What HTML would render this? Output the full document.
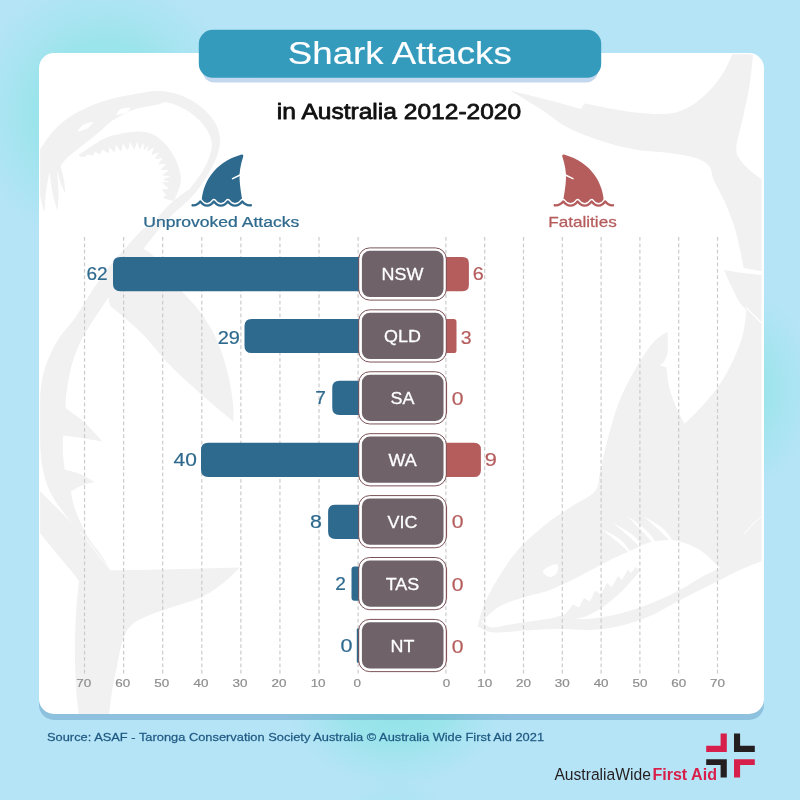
<!DOCTYPE html>
<html lang="en">
<head>
<meta charset="utf-8">
<title>Shark Attacks in Australia 2012-2020</title>
<style>
html,body{margin:0;padding:0;width:800px;height:800px;overflow:hidden;background:#b6e4f7;}
svg{display:block;}
text{font-family:"Liberation Sans",sans-serif;}
</style>
</head>
<body>
<svg width="800" height="800" viewBox="0 0 800 800">
<defs>
<radialGradient id="g1" cx="50%" cy="50%" r="50%"><stop offset="0" stop-color="#8fe4e6" stop-opacity="1"/><stop offset="0.45" stop-color="#94e4e9" stop-opacity="0.8"/><stop offset="0.75" stop-color="#a2e4ee" stop-opacity="0.4"/><stop offset="1" stop-color="#b6e4f7" stop-opacity="0"/></radialGradient>
<clipPath id="cardclip"><rect x="40.2" y="54.3" width="721.4" height="659.7" rx="14" ry="14"/></clipPath>
</defs>
<rect x="0" y="0" width="800" height="800" fill="#b6e4f7"/>
<ellipse cx="105" cy="112" rx="155" ry="155" fill="url(#g1)"/>
<ellipse cx="705" cy="390" rx="128" ry="128" fill="url(#g1)"/>
<ellipse cx="397" cy="694" rx="126" ry="108" fill="url(#g1)"/>
<ellipse cx="392" cy="840" rx="80" ry="70" fill="url(#g1)" opacity="0.5"/>
<!-- card -->
<rect x="39" y="59" width="725" height="661" rx="15" ry="15" fill="#3c78aa" fill-opacity="0.33"/>
<rect x="39" y="53" width="725" height="661" rx="15" ry="15" fill="#ffffff"/>
<g clip-path="url(#cardclip)" fill="#f1f1f1" id="watermarks">
<path d="M38.0,152.0 C38.5,151.3 38.5,151.4 41.0,148.0 C43.5,144.6 48.5,136.5 53.0,131.5 C57.5,126.5 61.8,122.2 68.0,118.0 C74.2,113.8 83.0,109.2 90.5,106.0 C98.0,102.8 105.5,100.5 113.0,98.5 C120.5,96.5 128.0,95.2 135.5,94.0 C143.0,92.8 150.6,90.8 158.0,91.0 C165.4,91.2 173.0,92.5 180.0,95.0 C187.0,97.5 194.2,101.4 200.0,106.0 C205.8,110.6 211.7,116.8 215.0,122.5 C218.3,128.2 219.8,134.2 220.0,140.0 C220.2,145.8 218.6,151.7 216.5,157.5 C214.4,163.3 210.7,169.6 207.5,175.0 C204.3,180.4 201.2,185.2 197.5,190.0 C193.8,194.8 189.1,199.5 185.0,203.5 C180.9,207.5 177.5,209.5 173.0,214.0 C168.5,218.5 162.9,224.7 158.0,230.5 C153.1,236.3 145.8,245.9 143.3,249.0 C144.8,249.9 148.9,251.3 152.0,254.5 C155.1,257.7 156.9,261.8 162.0,268.0 C167.1,274.2 176.3,284.9 182.3,291.8 C188.3,298.7 193.1,302.9 198.0,309.3 C202.9,315.7 207.9,322.7 212.0,330.3 C216.1,337.9 219.6,346.4 222.5,354.8 C225.4,363.2 227.8,372.8 229.5,381.0 C231.2,389.2 232.3,397.1 233.0,403.8 C233.7,410.6 233.5,418.6 233.6,421.5 C231.8,420.0 228.4,417.5 222.5,412.5 C216.6,407.5 206.8,399.4 198.0,391.5 C189.2,383.6 179.0,374.6 170.0,365.3 C161.0,356.0 151.7,343.7 143.8,335.5 C135.9,327.3 128.3,321.2 122.8,316.3 C117.2,311.4 112.8,309.0 110.5,305.8 C108.2,302.6 109.1,298.5 108.8,297.0 C106.1,301.1 97.3,313.9 92.5,321.5 C87.7,329.1 83.5,335.1 80.0,342.5 C76.5,349.9 73.8,357.7 71.5,366.0 C69.2,374.3 67.5,385.4 66.5,392.5 C65.5,399.6 65.8,405.7 65.6,408.3 C68.7,410.6 77.9,416.5 84.0,422.0 C90.1,427.5 99.3,438.2 102.4,441.5 C99.0,440.9 88.6,439.0 82.0,438.0 C75.4,437.0 66.2,435.8 63.0,435.4 C63.0,438.5 62.7,448.1 63.0,453.8 C63.3,459.5 64.5,467.1 64.8,469.8 C67.3,470.5 75.0,472.0 80.0,474.0 C85.0,476.0 92.1,480.7 94.5,482.0 C92.4,482.6 85.9,483.9 82.0,485.5 C78.1,487.1 72.8,490.6 70.9,491.6 C71.6,494.7 72.5,502.6 75.3,510.0 C78.1,517.5 83.1,528.7 87.5,536.3 C91.9,543.9 97.7,549.8 101.5,555.5 C105.3,561.2 109.1,567.8 110.6,570.3 C121.3,570.1 153.4,569.7 175.0,569.2 C196.6,568.7 229.1,567.8 239.9,567.5 C236.9,570.2 228.7,579.0 222.0,584.0 C215.3,589.0 209.2,593.7 200.0,597.8 C190.8,601.9 176.2,605.6 167.0,608.8 C157.8,612.0 150.9,614.2 145.0,617.0 C139.1,619.8 135.0,621.6 131.3,625.3 C127.6,629.0 125.3,632.6 123.0,639.0 C120.7,645.4 119.3,655.1 117.5,663.8 C115.7,672.5 113.5,681.9 112.0,691.3 C110.5,700.7 109.1,715.2 108.5,720.0 L79.5,720.0 C79.0,715.2 77.1,703.0 76.3,691.3 C75.5,679.6 74.9,663.8 74.9,650.0 C74.9,636.2 75.6,620.2 76.3,608.8 C77.0,597.3 78.5,585.9 79.0,581.3 C77.9,579.8 76.7,577.7 72.5,572.5 C68.3,567.3 59.4,556.8 53.8,550.0 C48.2,543.2 42.8,536.3 38.8,532.0 C34.8,527.7 31.5,525.3 30.0,524.0 L30.0,483.0 C31.5,484.2 34.8,486.3 38.8,490.0 C42.8,493.7 48.8,500.0 53.8,505.0 C58.8,510.0 64.4,515.5 68.8,520.0 C73.2,524.5 78.1,530.0 80.0,532.0 C77.5,529.1 70.0,521.1 65.0,514.4 C60.0,507.7 53.8,499.8 50.0,492.0 C46.2,484.2 44.2,476.0 42.5,467.5 C40.8,459.0 40.2,449.1 39.7,441.0 C39.2,432.9 39.3,426.9 39.4,418.8 C39.5,410.7 39.3,401.2 40.3,392.5 C41.3,383.8 42.6,375.1 45.5,366.3 C48.4,357.6 52.9,348.1 57.8,340.0 C62.7,331.9 69.2,326.3 75.0,318.0 C80.8,309.7 86.7,298.8 92.5,290.0 C98.3,281.2 104.8,272.2 110.0,265.5 C115.2,258.8 118.8,255.6 124.0,249.8 C129.2,244.0 136.8,234.9 141.5,230.5 C146.2,226.1 147.8,227.4 152.0,223.5 C156.2,219.6 162.5,211.5 167.0,207.0 C171.5,202.5 175.2,199.5 179.0,196.5 C182.8,193.5 188.2,190.1 190.0,188.8 C192.1,185.9 199.2,176.9 202.5,171.3 C205.8,165.7 208.5,160.2 210.0,155.0 C211.5,149.8 212.6,145.2 211.3,140.0 C210.1,134.8 206.7,128.8 202.5,123.8 C198.3,118.8 192.1,113.5 186.3,110.0 C180.5,106.5 172.2,103.4 167.5,102.5 C162.8,101.6 163.3,103.4 158.0,104.5 C152.7,105.6 141.5,107.2 135.5,109.0 C129.5,110.8 126.2,112.8 122.0,115.0 C117.8,117.2 114.0,119.5 110.0,122.5 C106.0,125.5 102.5,129.2 98.0,133.0 C93.5,136.8 88.0,141.0 83.0,145.0 C78.0,149.0 71.8,153.5 68.0,157.0 C64.2,160.5 61.8,164.5 60.5,166.0 C61.1,168.3 63.2,175.3 64.0,180.0 C64.8,184.7 65.2,191.7 65.5,194.0 C64.8,192.3 62.4,188.0 61.0,184.0 C59.6,180.0 57.7,172.3 57.0,170.0 C57.2,173.7 58.4,185.2 58.5,192.0 C58.6,198.8 57.9,207.8 57.8,211.0 C57.0,208.3 54.4,201.5 53.0,195.0 C51.6,188.5 50.1,175.8 49.5,172.0 C48.9,175.3 46.8,185.2 46.0,192.0 C45.2,198.8 44.8,209.5 44.5,213.0 C43.6,209.2 40.1,198.0 39.0,190.0 C37.9,182.0 38.2,169.2 38.0,165.0 L38.0,152.0Z" fill="#f1f1f1"/>
<path d="M80.0,532.0 C81.7,534.0 86.7,539.8 90.0,544.0 C93.3,548.2 96.5,552.6 100.0,557.0 C103.5,561.4 109.2,568.2 111.0,570.5" fill="none" stroke="#ffffff" stroke-width="1"/>
<path d="M77.0,132.0 C78.0,130.8 80.2,126.8 83.0,125.0 C85.8,123.2 91.8,122.1 93.5,121.5 C92.6,122.6 90.8,126.2 88.0,128.0 C85.2,129.8 78.8,131.3 77.0,132.0Z" fill="#ffffff"/>
<path d="M116.0,115.0 C116.8,114.0 118.5,110.2 121.0,109.0 C123.5,107.8 129.3,107.8 131.0,107.5 C130.2,108.4 128.5,111.8 126.0,113.0 C123.5,114.2 117.7,114.7 116.0,115.0Z" fill="#ffffff"/>
<path d="M79.6,154.8 L81.3,153.7 L83.0,152.6 L84.7,151.5 L86.4,150.3 L88.0,149.2 L89.7,148.1 L91.4,147.0 L93.1,145.9 L94.8,144.8 L96.6,143.7 L98.2,142.7 L99.9,141.6 L101.6,140.5 L103.4,139.6 L105.4,138.7 L107.3,137.9 L109.4,137.1 L111.5,136.5 L113.5,135.9 L115.5,135.4 L117.5,135.0 L119.5,134.5 L121.5,134.1 L123.5,133.7 L125.6,133.4 L127.6,133.1 L129.6,132.8 L131.7,132.5 L133.8,132.3 L135.9,132.2 L138.1,132.1 L140.3,132.2 L142.5,132.4 L144.7,132.7 L146.9,133.1 L149.1,133.7 L151.2,134.4 L153.3,135.3 L155.5,136.5 L157.4,137.7 L159.1,139.1 L160.8,140.5 L162.3,141.9 L163.8,143.4 L165.3,145.0 L166.7,146.7 L168.0,148.4 L169.3,150.1 L170.5,151.8 L171.6,153.6 L172.7,155.4 L173.7,157.2 L174.7,159.1 L175.7,161.0 L176.5,163.0 L177.3,165.0 L178.0,167.0 L178.6,169.1 L179.2,171.1 L179.7,173.2 L180.0,175.4 L180.3,177.7 L180.3,180.1 L180.0,182.6 L179.5,184.9 L178.9,187.0 L178.2,189.0 L177.5,190.9 L176.8,192.8 L176.0,194.7 L175.2,196.7 L174.4,198.6 L173.5,200.4 L166.0,198.4 L163.7,197.4 L167.3,195.7 L162.8,190.1 L170.1,189.0 L163.4,182.7 L172.3,182.3 L164.2,179.5 L172.5,176.1 L163.5,174.9 L170.8,169.4 L161.7,169.3 L168.1,162.9 L159.0,163.9 L164.5,156.7 L155.6,158.7 L160.4,150.9 L152.0,154.4 L155.4,145.9 L147.7,150.6 L150.1,142.2 L144.4,149.1 L143.8,140.2 L139.8,148.3 L137.0,139.7 L134.3,148.4 L129.9,140.4 L127.6,149.4 L122.6,141.7 L120.9,150.7 L115.4,143.3 L114.4,151.5 L108.8,145.5 L108.2,152.4 L101.9,148.4 L100.2,153.8 L94.7,150.9 L92.5,154.9 L87.5,153.6 L84.6,156.2 L80.4,156.2Z" fill="#f1f1f1" stroke="#f1f1f1" stroke-width="1.2" stroke-linejoin="round"/>
<path d="M510.0,90.5 C516.8,92.2 538.8,97.5 550.6,100.6 C562.4,103.7 575.9,107.6 581.0,109.0 L584.5,103.5 C592.9,105.0 619.8,110.9 635.0,112.4 C650.2,113.9 664.2,114.9 675.5,112.4 C686.8,109.9 694.6,103.8 702.5,97.3 C710.4,90.8 717.2,82.3 722.8,73.6 C728.4,64.9 734.0,49.8 736.3,45.0 L754.0,45.0 C753.3,51.5 751.6,71.7 749.8,83.8 C748.0,95.9 745.2,106.8 743.0,117.5 C740.8,128.2 736.6,140.7 736.3,147.9 C736.0,155.2 738.4,157.0 741.0,161.0 C743.6,165.0 748.3,168.8 752.0,172.0 C755.7,175.2 760.0,177.8 763.0,180.0 C766.0,182.2 768.8,184.2 770.0,185.0 L770.0,272.5 L743.8,268.1 C743.2,265.0 741.6,256.3 740.0,249.4 C738.4,242.5 736.9,234.7 734.4,226.9 C731.9,219.1 728.4,210.3 725.0,202.5 C721.6,194.7 716.4,186.0 713.8,180.0 C711.2,174.0 712.3,170.1 709.3,166.4 C706.3,162.7 702.5,160.2 695.8,158.0 C689.0,155.8 678.9,154.4 668.8,153.0 C658.7,151.6 646.2,151.6 635.0,149.6 C623.8,147.6 612.5,144.8 601.3,141.1 C590.0,137.4 577.6,132.9 567.5,127.6 C557.4,122.2 550.1,115.2 540.5,109.0 C530.9,102.8 515.1,93.6 510.0,90.5Z" fill="#f1f1f1"/>
<path d="M724.0,270.0 C727.2,270.5 735.3,272.0 743.0,273.0 C750.7,274.0 765.5,275.5 770.0,276.0 L770.0,331.0 C765.6,327.1 750.0,314.5 743.8,307.5 C737.5,300.5 735.8,295.1 732.5,288.8 C729.2,282.6 725.4,273.1 724.0,270.0Z" fill="#f1f1f1"/>
<path d="M741.0,269.3 C743.0,269.7 748.8,270.9 753.0,271.6 C757.2,272.3 763.8,273.3 766.0,273.6" fill="none" stroke="#ffffff" stroke-width="1.6"/>
<path d="M477.5,626.3 C478.8,622.3 481.2,611.0 485.0,602.5 C488.8,594.0 494.2,584.2 500.0,575.0 C505.8,565.8 512.5,555.8 520.0,547.5 C527.5,539.2 536.7,531.7 545.0,525.0 C553.3,518.3 561.7,513.1 570.0,507.5 C578.3,501.9 590.0,497.1 595.0,491.3 C600.0,485.5 597.9,481.1 600.0,472.5 C602.1,463.9 604.3,451.9 607.5,440.0 C610.7,428.1 614.7,413.0 619.3,401.3 C623.9,389.6 629.4,379.6 635.0,369.8 C640.6,360.1 647.6,349.2 653.0,342.8 C658.4,336.4 665.2,333.4 667.6,331.5 C667.6,334.9 668.2,346.7 667.6,351.8 C667.0,356.9 664.6,360.3 664.0,362.0 L659.8,365.3 L666.5,367.5 C666.9,370.5 667.3,379.1 668.8,385.5 C670.3,391.9 672.9,399.4 675.5,405.8 C678.1,412.2 683.0,420.8 684.5,423.8 C687.5,420.8 696.5,412.6 702.5,405.8 C708.5,399.1 715.2,391.2 720.5,383.3 C725.8,375.4 730.2,366.8 734.0,358.5 C737.8,350.2 740.9,342.1 743.0,333.8 C745.1,325.6 746.0,313.1 746.6,309.0 L770.0,332.5 L770.0,558.0 C765.0,560.0 748.3,566.3 740.0,570.0 C731.7,573.7 728.3,575.8 720.0,580.0 C711.7,584.2 698.3,590.8 690.0,595.0 C681.7,599.2 676.7,602.0 670.0,605.5 C663.3,609.0 658.3,612.6 650.0,616.0 C641.7,619.4 630.0,623.7 620.0,626.0 C610.0,628.3 600.0,629.5 590.0,630.0 C580.0,630.5 570.0,628.8 560.0,628.8 C550.0,628.8 540.0,629.7 530.0,630.3 C520.0,630.9 507.0,632.3 500.0,632.5 C493.0,632.7 491.8,632.5 488.0,631.5 C484.2,630.5 479.2,627.2 477.5,626.3Z" fill="#f1f1f1"/>
<path d="M746.0,307.5 C747.5,309.0 751.7,313.2 755.0,316.5 C758.3,319.8 764.2,325.7 766.0,327.5" fill="none" stroke="#ffffff" stroke-width="1.3"/>
<path d="M481.5,622.0 C484.6,619.3 492.8,610.2 500.0,606.0 C507.2,601.8 516.7,599.7 525.0,597.0 C533.3,594.3 540.8,593.5 550.0,590.0 C559.2,586.5 570.0,581.0 580.0,576.0 C590.0,571.0 601.7,564.2 610.0,560.0 C618.3,555.8 624.2,553.7 630.0,551.0 C635.8,548.3 640.0,545.8 645.0,544.0 C650.0,542.2 654.5,541.0 660.0,540.5 C665.5,540.0 671.3,539.4 678.0,541.0 C684.7,542.6 693.0,545.5 700.0,550.0 C707.0,554.5 716.7,565.0 720.0,568.0 C716.7,569.7 706.7,574.3 700.0,578.0 C693.3,581.7 686.7,586.4 680.0,590.0 C673.3,593.6 666.7,596.6 660.0,599.5 C653.3,602.4 646.7,605.2 640.0,607.5 C633.3,609.8 626.7,611.8 620.0,613.5 C613.3,615.2 606.7,616.6 600.0,617.5 C593.3,618.4 586.0,619.4 580.0,619.0 C574.0,618.6 566.7,615.7 564.0,615.0 C561.7,615.6 555.7,617.4 550.0,618.5 C544.3,619.6 536.7,620.5 530.0,621.5 C523.3,622.5 516.3,623.5 510.0,624.5 C503.7,625.5 496.8,627.9 492.0,627.5 C487.2,627.1 483.2,622.9 481.5,622.0Z" fill="#ffffff"/>
<path d="M562.0,617.0 C565.0,617.2 573.7,619.3 580.0,618.0 C586.3,616.7 593.3,613.2 600.0,609.0 C606.7,604.8 613.3,599.3 620.0,593.0 C626.7,586.7 636.7,574.7 640.0,571.0 L636.0,567.0 L631.0,573.0 L628.0,569.5 L622.0,580.0 L618.0,576.0 L612.0,587.0 L607.0,583.0 L601.0,594.5 L595.0,590.5 L590.0,601.5 L584.0,598.0 L579.0,607.5 L573.0,604.5 L568.0,611.0 L562.0,617.0Z" fill="#f1f1f1"/>
<path d="M543.0,571.5 C543.0,569.8 546.6,567.7 549.0,566.5 C551.4,565.3 556.2,563.3 557.5,564.5 C558.8,565.7 557.9,571.4 556.5,573.5 C555.1,575.6 551.2,577.3 549.0,577.0 C546.8,576.7 543.0,573.2 543.0,571.5Z" fill="#ffffff"/>
<path d="M601.0,529.0 C604.3,530.8 615.2,535.1 620.7,539.8 C626.2,544.5 631.8,554.1 634.0,557.0 C631.4,554.6 623.6,547.1 618.1,542.4 C612.6,537.7 603.9,531.2 601.0,529.0Z" fill="#ffffff"/>
<path d="M613.0,523.0 C616.6,525.3 628.5,531.1 634.7,536.8 C640.9,542.5 647.5,553.6 650.0,557.0 C647.0,554.1 638.3,545.1 632.1,539.4 C625.9,533.7 616.2,525.7 613.0,523.0Z" fill="#ffffff"/>
<path d="M627.0,516.0 C630.6,518.8 642.5,526.1 648.7,532.8 C654.9,539.5 661.5,552.1 664.0,556.0 C661.0,552.6 652.3,542.1 646.1,535.4 C639.9,528.7 630.2,519.2 627.0,516.0Z" fill="#ffffff"/>
<path d="M643.0,516.0 C646.5,518.2 657.9,523.8 663.7,529.3 C669.5,534.8 675.6,545.7 678.0,549.0 C675.2,546.1 666.9,537.4 661.1,531.9 C655.3,526.4 646.0,518.6 643.0,516.0Z" fill="#ffffff"/>
<path d="M744.0,534.0 C745.5,532.3 749.8,527.2 753.0,524.0 C756.2,520.8 761.3,516.5 763.0,515.0" fill="none" stroke="#ffffff" stroke-width="1"/>
</g>

<rect x="202.5" y="38" width="395.5" height="44.6" rx="12" ry="12" fill="#7aa7dc" fill-opacity="0.45"/>
<rect x="198.8" y="29.8" width="402.4" height="48" rx="14" ry="14" fill="#359bbd"/>
<text transform="translate(399.80,64.30) scale(1.1450,1)" font-size="32" fill="#ffffff" text-anchor="middle" stroke="#ffffff" stroke-width="0.15" stroke-linejoin="round">Shark Attacks</text>
<text transform="translate(399.00,119.30) scale(1.0919,1)" font-size="22.5" fill="#111111" text-anchor="middle" stroke="#111111" stroke-width="0.8" stroke-linejoin="round">in Australia 2012-2020</text>
<g stroke="#cbcbcb" stroke-width="1.2" stroke-dasharray="3.75 2.6125" fill="none">
<line x1="358.10" y1="237.1" x2="358.10" y2="673.5"/>
<line x1="319.02" y1="237.1" x2="319.02" y2="673.5"/>
<line x1="279.94" y1="237.1" x2="279.94" y2="673.5"/>
<line x1="240.86" y1="237.1" x2="240.86" y2="673.5"/>
<line x1="201.78" y1="237.1" x2="201.78" y2="673.5"/>
<line x1="162.70" y1="237.1" x2="162.70" y2="673.5"/>
<line x1="123.62" y1="237.1" x2="123.62" y2="673.5"/>
<line x1="84.54" y1="237.1" x2="84.54" y2="673.5"/>
<line x1="445.90" y1="237.1" x2="445.90" y2="673.5"/>
<line x1="484.70" y1="237.1" x2="484.70" y2="673.5"/>
<line x1="523.50" y1="237.1" x2="523.50" y2="673.5"/>
<line x1="562.30" y1="237.1" x2="562.30" y2="673.5"/>
<line x1="601.10" y1="237.1" x2="601.10" y2="673.5"/>
<line x1="639.90" y1="237.1" x2="639.90" y2="673.5"/>
<line x1="678.70" y1="237.1" x2="678.70" y2="673.5"/>
<line x1="717.50" y1="237.1" x2="717.50" y2="673.5"/>
</g>
<g>
<text transform="translate(357.20,687.20) scale(1.2000,1)" font-size="11.2" fill="#8e8e8e" text-anchor="middle" stroke="#8e8e8e" stroke-width="0.2" stroke-linejoin="round">0</text>
<text transform="translate(318.12,687.20) scale(1.2000,1)" font-size="11.2" fill="#8e8e8e" text-anchor="middle" stroke="#8e8e8e" stroke-width="0.2" stroke-linejoin="round">10</text>
<text transform="translate(279.04,687.20) scale(1.2000,1)" font-size="11.2" fill="#8e8e8e" text-anchor="middle" stroke="#8e8e8e" stroke-width="0.2" stroke-linejoin="round">20</text>
<text transform="translate(239.96,687.20) scale(1.2000,1)" font-size="11.2" fill="#8e8e8e" text-anchor="middle" stroke="#8e8e8e" stroke-width="0.2" stroke-linejoin="round">30</text>
<text transform="translate(200.88,687.20) scale(1.2000,1)" font-size="11.2" fill="#8e8e8e" text-anchor="middle" stroke="#8e8e8e" stroke-width="0.2" stroke-linejoin="round">40</text>
<text transform="translate(161.80,687.20) scale(1.2000,1)" font-size="11.2" fill="#8e8e8e" text-anchor="middle" stroke="#8e8e8e" stroke-width="0.2" stroke-linejoin="round">50</text>
<text transform="translate(122.72,687.20) scale(1.2000,1)" font-size="11.2" fill="#8e8e8e" text-anchor="middle" stroke="#8e8e8e" stroke-width="0.2" stroke-linejoin="round">60</text>
<text transform="translate(83.64,687.20) scale(1.2000,1)" font-size="11.2" fill="#8e8e8e" text-anchor="middle" stroke="#8e8e8e" stroke-width="0.2" stroke-linejoin="round">70</text>
<text transform="translate(446.50,687.20) scale(1.2000,1)" font-size="11.2" fill="#8e8e8e" text-anchor="middle" stroke="#8e8e8e" stroke-width="0.2" stroke-linejoin="round">0</text>
<text transform="translate(484.70,687.20) scale(1.2000,1)" font-size="11.2" fill="#8e8e8e" text-anchor="middle" stroke="#8e8e8e" stroke-width="0.2" stroke-linejoin="round">10</text>
<text transform="translate(523.50,687.20) scale(1.2000,1)" font-size="11.2" fill="#8e8e8e" text-anchor="middle" stroke="#8e8e8e" stroke-width="0.2" stroke-linejoin="round">20</text>
<text transform="translate(562.30,687.20) scale(1.2000,1)" font-size="11.2" fill="#8e8e8e" text-anchor="middle" stroke="#8e8e8e" stroke-width="0.2" stroke-linejoin="round">30</text>
<text transform="translate(601.10,687.20) scale(1.2000,1)" font-size="11.2" fill="#8e8e8e" text-anchor="middle" stroke="#8e8e8e" stroke-width="0.2" stroke-linejoin="round">40</text>
<text transform="translate(639.90,687.20) scale(1.2000,1)" font-size="11.2" fill="#8e8e8e" text-anchor="middle" stroke="#8e8e8e" stroke-width="0.2" stroke-linejoin="round">50</text>
<text transform="translate(678.70,687.20) scale(1.2000,1)" font-size="11.2" fill="#8e8e8e" text-anchor="middle" stroke="#8e8e8e" stroke-width="0.2" stroke-linejoin="round">60</text>
<text transform="translate(717.50,687.20) scale(1.2000,1)" font-size="11.2" fill="#8e8e8e" text-anchor="middle" stroke="#8e8e8e" stroke-width="0.2" stroke-linejoin="round">70</text>
</g>
<g transform=""><g transform="translate(0.00,0)"><path d="M241.6,154.6 C243.2,154.2 243.6,155.6 243.1,157 C240.6,165 239.2,172 239.6,179 C240,187 241.2,194 243,204 L201.5,204 C202,184 213.5,162.5 241.6,154.6 Z" fill="#2e6a8e"/><path d="M192.6,205.3 C196.2,205.6 198.6,203.8 200.3,201.4 C202.2,204.2 204.2,205.6 207,205.6 C209.8,205.6 212,204.2 213.9,201.4 C215.8,204.2 217.8,205.6 220.8,205.6 C223.8,205.6 226,204.2 227.9,201.4 C229.8,204.2 232,205.6 235,205.6 C238,205.6 240.3,204.2 242.3,201.4 C244,203.8 247,205.6 250.8,205.3" fill="none" stroke="#ffffff" stroke-width="5.1" stroke-linecap="butt" stroke-linejoin="round"/><path d="M192.6,205.3 C196.2,205.6 198.6,203.8 200.3,201.4 C202.2,204.2 204.2,205.6 207,205.6 C209.8,205.6 212,204.2 213.9,201.4 C215.8,204.2 217.8,205.6 220.8,205.6 C223.8,205.6 226,204.2 227.9,201.4 C229.8,204.2 232,205.6 235,205.6 C238,205.6 240.3,204.2 242.3,201.4 C244,203.8 247,205.6 250.8,205.3" fill="none" stroke="#2e6a8e" stroke-width="2.4" stroke-linecap="round" stroke-linejoin="round"/><path d="M232.6,178.6 L240.6,174.8" fill="none" stroke="#ffffff" stroke-width="1.6" stroke-linecap="round"/></g></g>
<g transform="translate(1167.8,0) scale(-1,1)"><g transform="translate(362.25,0)"><path d="M241.6,154.6 C243.2,154.2 243.6,155.6 243.1,157 C240.6,165 239.2,172 239.6,179 C240,187 241.2,194 243,204 L201.5,204 C202,184 213.5,162.5 241.6,154.6 Z" fill="#b55c5c"/><path d="M192.6,205.3 C196.2,205.6 198.6,203.8 200.3,201.4 C202.2,204.2 204.2,205.6 207,205.6 C209.8,205.6 212,204.2 213.9,201.4 C215.8,204.2 217.8,205.6 220.8,205.6 C223.8,205.6 226,204.2 227.9,201.4 C229.8,204.2 232,205.6 235,205.6 C238,205.6 240.3,204.2 242.3,201.4 C244,203.8 247,205.6 250.8,205.3" fill="none" stroke="#ffffff" stroke-width="5.1" stroke-linecap="butt" stroke-linejoin="round"/><path d="M192.6,205.3 C196.2,205.6 198.6,203.8 200.3,201.4 C202.2,204.2 204.2,205.6 207,205.6 C209.8,205.6 212,204.2 213.9,201.4 C215.8,204.2 217.8,205.6 220.8,205.6 C223.8,205.6 226,204.2 227.9,201.4 C229.8,204.2 232,205.6 235,205.6 C238,205.6 240.3,204.2 242.3,201.4 C244,203.8 247,205.6 250.8,205.3" fill="none" stroke="#b55c5c" stroke-width="2.4" stroke-linecap="round" stroke-linejoin="round"/><path d="M232.6,178.6 L240.6,174.8" fill="none" stroke="#ffffff" stroke-width="1.6" stroke-linecap="round"/></g></g>
<text transform="translate(221.30,226.60) scale(1.2014,1)" font-size="14.6" fill="#2e6a8e" text-anchor="middle" stroke="#2e6a8e" stroke-width="0.25" stroke-linejoin="round">Unprovoked Attacks</text>
<text transform="translate(582.50,226.80) scale(1.1742,1)" font-size="14.6" fill="#b55c5c" text-anchor="middle" stroke="#b55c5c" stroke-width="0.25" stroke-linejoin="round">Fatalities</text>
<path d="M400,257.00 L120.20,257.00 Q113.00,257.00 113.00,264.20 L113.00,284.00 Q113.00,291.20 120.20,291.20 L400,291.20 Z" fill="#2e6a8e"/>
<path d="M400,257.00 L462.50,257.00 Q468.90,257.00 468.90,263.40 L468.90,284.80 Q468.90,291.20 462.50,291.20 L400,291.20 Z" fill="#b55c5c"/>
<rect x="358.7" y="247.90" width="87.6" height="52.2" rx="11" ry="11" fill="#ffffff" stroke="#6b4046" stroke-width="0.9"/>
<rect x="361.9" y="250.80" width="81.6" height="46.3" rx="8" ry="8" fill="#6f6369"/>
<text transform="translate(402.50,280.10) scale(1.0300,1)" font-size="17.4" fill="#ffffff" text-anchor="middle" stroke="#ffffff" stroke-width="0.3" stroke-linejoin="round">NSW</text>
<text transform="translate(107.58,280.47) scale(1.0872,1)" font-size="17.5" fill="#2e6a8e" text-anchor="end" stroke="#2e6a8e" stroke-width="0.2" stroke-linejoin="round">62</text>
<text transform="translate(472.84,280.47) scale(1.1289,1)" font-size="17.5" fill="#b55c5c" text-anchor="start" stroke="#b55c5c" stroke-width="0.2" stroke-linejoin="round">6</text>
<path d="M400,318.92 L251.70,318.92 Q244.50,318.92 244.50,326.12 L244.50,345.92 Q244.50,353.12 251.70,353.12 L400,353.12 Z" fill="#2e6a8e"/>
<path d="M400,318.92 L453.64,318.92 Q456.50,318.92 456.50,321.78 L456.50,350.26 Q456.50,353.12 453.64,353.12 L400,353.12 Z" fill="#b55c5c"/>
<rect x="358.7" y="309.82" width="87.6" height="52.2" rx="11" ry="11" fill="#ffffff" stroke="#6b4046" stroke-width="0.9"/>
<rect x="361.9" y="312.72" width="81.6" height="46.3" rx="8" ry="8" fill="#6f6369"/>
<text transform="translate(402.50,342.02) scale(1.0300,1)" font-size="17.4" fill="#ffffff" text-anchor="middle" stroke="#ffffff" stroke-width="0.3" stroke-linejoin="round">QLD</text>
<text transform="translate(239.98,343.52) scale(1.1424,1)" font-size="17.5" fill="#2e6a8e" text-anchor="end" stroke="#2e6a8e" stroke-width="0.2" stroke-linejoin="round">29</text>
<text transform="translate(460.84,343.81) scale(1.1122,1)" font-size="17.5" fill="#b55c5c" text-anchor="start" stroke="#b55c5c" stroke-width="0.2" stroke-linejoin="round">3</text>
<path d="M400,380.84 L339.45,380.84 Q332.25,380.84 332.25,388.04 L332.25,407.84 Q332.25,415.04 339.45,415.04 L400,415.04 Z" fill="#2e6a8e"/>
<rect x="444.2" y="381.84" width="2.9" height="32.20" rx="1" fill="#b55c5c"/>
<rect x="358.7" y="371.74" width="87.6" height="52.2" rx="11" ry="11" fill="#ffffff" stroke="#6b4046" stroke-width="0.9"/>
<rect x="361.9" y="374.64" width="81.6" height="46.3" rx="8" ry="8" fill="#6f6369"/>
<text transform="translate(402.50,403.94) scale(1.0300,1)" font-size="17.4" fill="#ffffff" text-anchor="middle" stroke="#ffffff" stroke-width="0.3" stroke-linejoin="round">SA</text>
<text transform="translate(325.82,404.49) scale(1.0907,1)" font-size="17.5" fill="#2e6a8e" text-anchor="end" stroke="#2e6a8e" stroke-width="0.2" stroke-linejoin="round">7</text>
<text transform="translate(451.68,404.52) scale(1.2059,1)" font-size="17.5" fill="#b55c5c" text-anchor="start" stroke="#b55c5c" stroke-width="0.2" stroke-linejoin="round">0</text>
<path d="M400,442.76 L208.20,442.76 Q201.00,442.76 201.00,449.96 L201.00,469.76 Q201.00,476.96 208.20,476.96 L400,476.96 Z" fill="#2e6a8e"/>
<path d="M400,442.76 L474.10,442.76 Q480.90,442.76 480.90,449.56 L480.90,470.16 Q480.90,476.96 474.10,476.96 L400,476.96 Z" fill="#b55c5c"/>
<rect x="358.7" y="433.66" width="87.6" height="52.2" rx="11" ry="11" fill="#ffffff" stroke="#6b4046" stroke-width="0.9"/>
<rect x="361.9" y="436.56" width="81.6" height="46.3" rx="8" ry="8" fill="#6f6369"/>
<text transform="translate(402.50,465.86) scale(1.0300,1)" font-size="17.4" fill="#ffffff" text-anchor="middle" stroke="#ffffff" stroke-width="0.3" stroke-linejoin="round">WA</text>
<text transform="translate(196.82,465.77) scale(1.1969,1)" font-size="17.5" fill="#2e6a8e" text-anchor="end" stroke="#2e6a8e" stroke-width="0.2" stroke-linejoin="round">40</text>
<text transform="translate(484.84,466.44) scale(1.2441,1)" font-size="17.5" fill="#b55c5c" text-anchor="start" stroke="#b55c5c" stroke-width="0.2" stroke-linejoin="round">9</text>
<path d="M400,504.68 L335.30,504.68 Q328.10,504.68 328.10,511.88 L328.10,531.68 Q328.10,538.88 335.30,538.88 L400,538.88 Z" fill="#2e6a8e"/>
<rect x="444.2" y="505.68" width="2.9" height="32.20" rx="1" fill="#b55c5c"/>
<rect x="358.7" y="495.58" width="87.6" height="52.2" rx="11" ry="11" fill="#ffffff" stroke="#6b4046" stroke-width="0.9"/>
<rect x="361.9" y="498.48" width="81.6" height="46.3" rx="8" ry="8" fill="#6f6369"/>
<text transform="translate(402.50,527.78) scale(1.0300,1)" font-size="17.4" fill="#ffffff" text-anchor="middle" stroke="#ffffff" stroke-width="0.3" stroke-linejoin="round">VIC</text>
<text transform="translate(321.90,528.10) scale(1.2195,1)" font-size="17.5" fill="#2e6a8e" text-anchor="end" stroke="#2e6a8e" stroke-width="0.2" stroke-linejoin="round">8</text>
<text transform="translate(451.68,528.40) scale(1.2059,1)" font-size="17.5" fill="#b55c5c" text-anchor="start" stroke="#b55c5c" stroke-width="0.2" stroke-linejoin="round">0</text>
<path d="M400,566.60 L354.46,566.60 Q351.50,566.60 351.50,569.56 L351.50,597.84 Q351.50,600.80 354.46,600.80 L400,600.80 Z" fill="#2e6a8e"/>
<rect x="444.2" y="567.60" width="2.9" height="32.20" rx="1" fill="#b55c5c"/>
<rect x="358.7" y="557.50" width="87.6" height="52.2" rx="11" ry="11" fill="#ffffff" stroke="#6b4046" stroke-width="0.9"/>
<rect x="361.9" y="560.40" width="81.6" height="46.3" rx="8" ry="8" fill="#6f6369"/>
<text transform="translate(402.50,589.70) scale(1.0300,1)" font-size="17.4" fill="#ffffff" text-anchor="middle" stroke="#ffffff" stroke-width="0.3" stroke-linejoin="round">TAS</text>
<text transform="translate(345.82,589.77) scale(1.0907,1)" font-size="17.5" fill="#2e6a8e" text-anchor="end" stroke="#2e6a8e" stroke-width="0.2" stroke-linejoin="round">2</text>
<text transform="translate(451.68,590.56) scale(1.2059,1)" font-size="17.5" fill="#b55c5c" text-anchor="start" stroke="#b55c5c" stroke-width="0.2" stroke-linejoin="round">0</text>
<rect x="356.8" y="628.52" width="3" height="34.20" rx="1" fill="#2e6a8e"/>
<rect x="444.2" y="629.52" width="2.9" height="32.20" rx="1" fill="#b55c5c"/>
<rect x="358.7" y="619.42" width="87.6" height="52.2" rx="11" ry="11" fill="#ffffff" stroke="#6b4046" stroke-width="0.9"/>
<rect x="361.9" y="622.32" width="81.6" height="46.3" rx="8" ry="8" fill="#6f6369"/>
<text transform="translate(402.50,651.62) scale(1.0300,1)" font-size="17.4" fill="#ffffff" text-anchor="middle" stroke="#ffffff" stroke-width="0.3" stroke-linejoin="round">NT</text>
<text transform="translate(352.40,652.10) scale(1.2320,1)" font-size="17.5" fill="#2e6a8e" text-anchor="end" stroke="#2e6a8e" stroke-width="0.2" stroke-linejoin="round">0</text>
<text transform="translate(451.68,652.56) scale(1.2059,1)" font-size="17.5" fill="#b55c5c" text-anchor="start" stroke="#b55c5c" stroke-width="0.2" stroke-linejoin="round">0</text>
<text transform="translate(47.00,740.60) scale(1.1090,1)" font-size="11.6" fill="#1f5a82" text-anchor="start" stroke="#1f5a82" stroke-width="0.25" stroke-linejoin="round">Source: ASAF - Taronga Conservation Society Australia © Australia Wide First Aid 2021</text>
<text transform="translate(554.40,780.40) scale(1.0038,1)" font-size="15.6" fill="#231f20" text-anchor="start">AustraliaWide</text>
<text transform="translate(652.40,780.40) scale(1.0305,1)" font-size="15.6" fill="#d71f4a" text-anchor="start" font-weight="bold">First Aid</text>
<g>
<path d="M706.2,745.8 H720.6 V733.5 H726.8 V752 H706.2 Z" fill="#d61f4b"/>
<path d="M754.8,745.8 H740.1 V733.5 H734 V752 H754.8 Z" fill="#231f20"/>
<path d="M706.2,765 H720.6 V777.6 H726.8 V759.3 H706.2 Z" fill="#231f20"/>
<path d="M754.8,765 H740.1 V777.6 H734 V759.3 H754.8 Z" fill="#d61f4b"/>
</g>
</svg>
</body>
</html>
